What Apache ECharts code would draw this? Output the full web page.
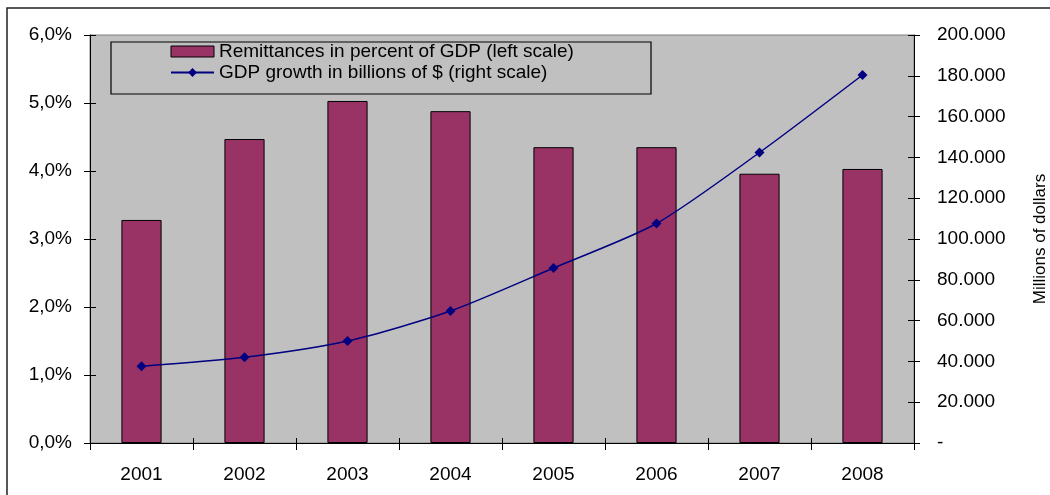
<!DOCTYPE html>
<html style="height: 100%">
<head>
<meta charset="utf-8">
<script src="https://cdn.jsdelivr.net/npm/echarts@6/dist/echarts.min.js"></script>
</head>
<body style="height: 100%; margin: 0; background: #fff">
<div id="container" style="width: 1050px; height: 495px"></div>
<script type="text/javascript">
var years = ['2001', '2002', '2003', '2004', '2005', '2006', '2007', '2008'];
// remittances, percent of GDP (left scale)
var remittances = [3.28, 4.47, 5.03, 4.88, 4.35, 4.35, 3.96, 4.03];
// GDP, millions of dollars (right scale)
var gdp = [37600, 42000, 50000, 64700, 85800, 107600, 142400, 180400];

var FONT = '"Liberation Sans", Arial, sans-serif';
var dom = document.getElementById('container');
var myChart = echarts.init(dom);

function thousands(v) {
    if (v === 0) return '-';
    var s = String(Math.round(v));
    return s.replace(/\B(?=(\d{3})+(?!\d))/g, '.');
}

var labelStyle = { color: '#000', fontFamily: FONT, fontSize: 19 };
var tickStyle = { color: '#000', width: 1 };

// plain copy of an axis that only draws the inner half of the crossing ticks
function innerTicks(base) {
    return Object.assign({
        axisLine: { show: false },
        axisTick: { show: true, inside: true, length: 6, lineStyle: tickStyle },
        axisLabel: { show: false },
        splitLine: { show: false }
    }, base);
}

var option = {
    animation: false,
    backgroundColor: '#fff',
    textStyle: { fontFamily: FONT },
    grid: {
        left: 90, top: 35, right: 136, bottom: 52,
        outerBoundsMode: 'none',
        show: true,
        backgroundColor: '#c0c0c0',
        borderColor: '#808080',
        borderWidth: 1
    },
    graphic: [
        {
            type: 'rect',
            shape: { x: 7, y: 8, width: 1100, height: 600 },
            style: { fill: 'none', stroke: '#222', lineWidth: 1.5 },
            silent: true
        },
        {
            type: 'rect',
            shape: { x: 111, y: 42, width: 540, height: 52 },
            style: { fill: '#c0c0c0', stroke: '#000', lineWidth: 1.2 },
            z: 5,
            silent: true
        }
    ],
    legend: {
        orient: 'vertical',
        left: 170,
        top: 42,
        padding: 0,
        itemGap: 2,
        itemWidth: 43,
        itemHeight: 11,
        itemTextGap: 8,
        z: 10,
        textStyle: labelStyle,
        data: [
            { name: 'Remittances in percent of GDP (left scale)', icon: 'rect', itemStyle: { borderColor: '#000', borderWidth: 1 } },
            { name: 'GDP growth in billions of $ (right scale)' }
        ]
    },
    xAxis: [
        {
            type: 'category',
            data: years,
            boundaryGap: true,
            axisLine: { lineStyle: { color: '#000', width: 1 } },
            axisTick: { show: true, interval: 0, length: 7, lineStyle: tickStyle },
            axisLabel: Object.assign({ margin: 22 }, labelStyle),
            splitLine: { show: false }
        },
        innerTicks({
            type: 'category',
            data: years,
            position: 'bottom',
            boundaryGap: true,
            axisTick: { show: true, inside: true, interval: 0, length: 5, lineStyle: tickStyle }
        })
    ],
    yAxis: [
        {
            type: 'value',
            min: 0, max: 6, interval: 1,
            axisLine: { show: true, lineStyle: { color: '#000' } },
            axisTick: { show: true, length: 6, lineStyle: tickStyle },
            axisLabel: Object.assign({
                margin: 18,
                formatter: function (v) { return v.toFixed(1).replace('.', ',') + '%'; }
            }, labelStyle),
            splitLine: { show: false }
        },
        {
            type: 'value',
            min: 0, max: 200000, interval: 20000,
            position: 'right',
            name: 'Millions of dollars',
            nameLocation: 'middle',
            nameRotate: 90,
            nameGap: 118,
            nameTextStyle: { color: '#000', fontFamily: FONT, fontSize: 17 },
            axisLine: { show: true, lineStyle: { color: '#000' } },
            axisTick: { show: true, length: 6, lineStyle: tickStyle },
            axisLabel: Object.assign({ margin: 23, formatter: thousands }, labelStyle),
            splitLine: { show: false }
        },
        innerTicks({ type: 'value', min: 0, max: 6, interval: 1, position: 'left' }),
        innerTicks({ type: 'value', min: 0, max: 200000, interval: 20000, position: 'right' })
    ],
    series: [
        {
            name: 'Remittances in percent of GDP (left scale)',
            type: 'bar',
            yAxisIndex: 0,
            barWidth: '39%',
            itemStyle: { color: '#993366', borderColor: '#000', borderWidth: 1 },
            data: remittances
        },
        {
            name: 'GDP growth in billions of $ (right scale)',
            type: 'line',
            yAxisIndex: 1,
            smooth: 0.25,
            symbol: 'diamond',
            symbolSize: 10,
            lineStyle: { color: '#000080', width: 1.5 },
            itemStyle: { color: '#000080' },
            data: gdp
        }
    ]
};

myChart.setOption(option, true);
</script>
</body>
</html>
